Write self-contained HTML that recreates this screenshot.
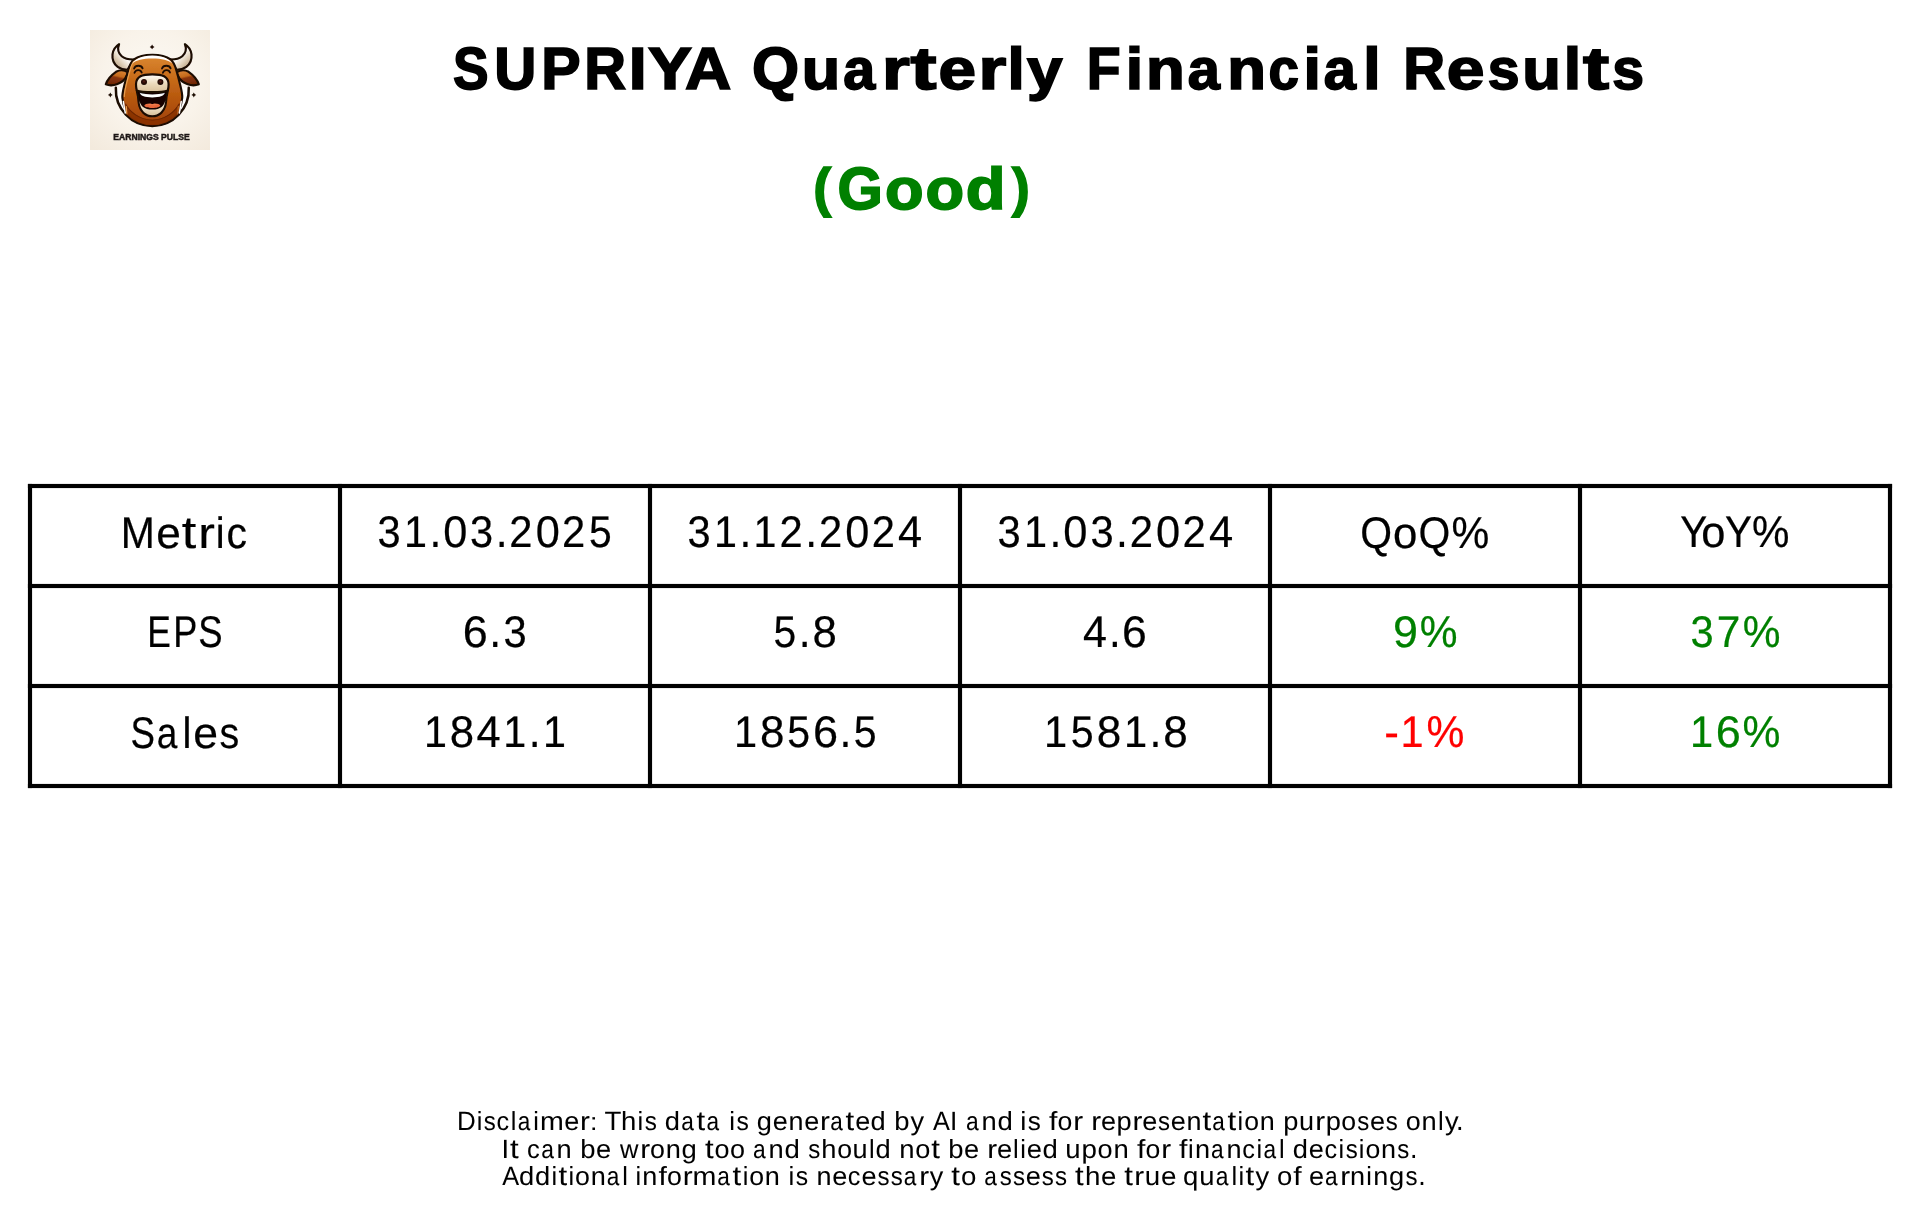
<!DOCTYPE html>
<html lang="en">
<head>
<meta charset="utf-8">
<title>SUPRIYA Quarterly Financial Results</title>
<style>
html,body{margin:0;padding:0;background:#ffffff;font-family:"Liberation Sans",sans-serif;}
body{width:1919px;height:1220px;position:relative;overflow:hidden;font-family:"Liberation Sans",sans-serif;}
#page{will-change:transform;position:absolute;left:0;top:0;width:1919px;height:1220px;display:block;font-family:"Liberation Sans",sans-serif;}
#page text{font-family:"Liberation Sans",sans-serif;white-space:pre;font-variant-ligatures:none;font-kerning:none;text-rendering:geometricPrecision;}
.b{font-weight:700;}
.grid rect{fill:#000000;}
</style>
</head>
<body>
<svg viewBox="0 0 120 120" width="120" height="120" style="position:absolute;left:90px;top:30px;display:block">
<defs>
<radialGradient id="lg-bg" cx="52%" cy="42%" r="75%"><stop offset="0" stop-color="#fcf9f4"/><stop offset=".55" stop-color="#f9f3ea"/><stop offset="1" stop-color="#f3eadd"/></radialGradient>
<linearGradient id="lg-head" x1="0" y1="0" x2="0" y2="1"><stop offset="0" stop-color="#dc8832"/><stop offset=".35" stop-color="#c66a18"/><stop offset=".7" stop-color="#b2520c"/><stop offset="1" stop-color="#a04308"/></linearGradient>
<linearGradient id="lg-hornL" x1="0.9" y1="0.1" x2="0.2" y2="0.9"><stop offset="0" stop-color="#ffffff"/><stop offset=".5" stop-color="#fbf8f2"/><stop offset=".72" stop-color="#e3d5c0"/><stop offset="1" stop-color="#bfa787"/></linearGradient>
<linearGradient id="lg-hornR" x1="0.1" y1="0.1" x2="0.8" y2="0.9"><stop offset="0" stop-color="#ffffff"/><stop offset=".5" stop-color="#fbf8f2"/><stop offset=".72" stop-color="#e3d5c0"/><stop offset="1" stop-color="#bfa787"/></linearGradient>
<linearGradient id="lg-muz" x1="0" y1="0" x2="0" y2="1"><stop offset="0" stop-color="#ffffff"/><stop offset=".25" stop-color="#f7eddc"/><stop offset=".55" stop-color="#ead8b9"/><stop offset="1" stop-color="#d9c19b"/></linearGradient>
<linearGradient id="lg-jaw" x1="0" y1="0" x2="0" y2="1"><stop offset="0" stop-color="#f7efdf"/><stop offset=".6" stop-color="#ecdcc0"/><stop offset="1" stop-color="#d9c29d"/></linearGradient>
<linearGradient id="lg-teeth" x1="0" y1="0" x2="0" y2="1"><stop offset="0" stop-color="#cfd5df"/><stop offset=".45" stop-color="#ffffff"/><stop offset="1" stop-color="#ffffff"/></linearGradient>
<radialGradient id="lg-nos" cx="50%" cy="40%" r="60%"><stop offset="0" stop-color="#5a2014"/><stop offset=".45" stop-color="#2c0c07"/><stop offset="1" stop-color="#180604"/></radialGradient>
<linearGradient id="lg-earL" x1="0.7" y1="0" x2="0.35" y2="1"><stop offset="0" stop-color="#d98434"/><stop offset=".38" stop-color="#c56a1c"/><stop offset=".5" stop-color="#8a350a"/><stop offset="1" stop-color="#6d2605"/></linearGradient>
<linearGradient id="lg-earR" x1="0.3" y1="0" x2="0.65" y2="1"><stop offset="0" stop-color="#d98434"/><stop offset=".38" stop-color="#c56a1c"/><stop offset=".5" stop-color="#8a350a"/><stop offset="1" stop-color="#6d2605"/></linearGradient>
<clipPath id="lg-headclip"><path d="M62.3 24.8C54 24.8 47.5 26.8 44 29.4C41.5 31.5 39.8 35 38.5 39.5C37.3 43.5 35.6 50 34.4 55C33 60.5 32 64.5 32.4 68C32.9 72.5 34 76 35 78.5L36.34 84.2A35.9 35.9 0 0 0 88.26 84.2L89.6 78.5C90.6 76 91.7 72.5 92.2 68C92.6 64.5 91.6 60.5 90.2 55C89 50 87.3 43.5 86.1 39.5C84.8 35 83.1 31.5 80.6 29.3C77.1 26.8 70.6 24.8 62.3 24.8Z"/></clipPath>
<filter id="lg-blur" x="-5%" y="-5%" width="110%" height="110%"><feGaussianBlur stdDeviation="0.4"/></filter>
</defs>
<rect width="120" height="120" fill="url(#lg-bg)"/>
<g filter="url(#lg-blur)" stroke-linejoin="round" stroke-linecap="round">
<!-- ring -->
<path d="M25.84 57.4A36.5 36.5 0 1 0 98.76 57.4Z" fill="#fffefb" stroke="none"/>
<path d="M25.84 57.8A36.5 36.5 0 1 0 98.76 57.8" fill="none" stroke="#1b0a06" stroke-width="2.5"/>
<!-- horns -->
<path d="M44 29.5C39 29.6 34.5 28.6 31.7 26.2C28.7 23.6 27.2 19.2 29.1 14.2C25.5 16.5 23 20.5 22.5 24.5C22 29.5 24 34 27.7 36.9C30.5 39 33.5 39.8 37.4 39.8Z" fill="url(#lg-hornL)" stroke="#1b0a06" stroke-width="2.15"/>
<path d="M80 29.5C85 29.6 89.5 28.6 92.3 26.2C95.3 23.6 96.8 19.2 94.9 14.2C98.5 16.5 101 20.5 101.5 24.5C102 29.5 100 34 96.3 36.9C93.5 39 90.5 39.8 86.6 39.8Z" fill="url(#lg-hornR)" stroke="#1b0a06" stroke-width="2.15"/>
<!-- ears -->
<path d="M15.8 54.3C17 50.5 20 46 26 41.8C30 39.6 34.5 40 38 42.5L36.5 46C35 49.5 31.5 52.5 27.5 54C23.5 55.6 19.5 55.8 15.8 54.3Z" fill="url(#lg-earL)" stroke="#1b0a06" stroke-width="2.15"/>
<path d="M108.8 54.3C107.6 50.5 104.6 46 98.6 41.8C94.6 39.6 90.1 40 86.6 42.5L88.1 46C89.6 49.5 93.1 52.5 97.1 54C101.1 55.6 105.1 55.8 108.8 54.3Z" fill="url(#lg-earR)" stroke="#1b0a06" stroke-width="2.15"/>
<!-- head + body -->
<path d="M62.3 24.8C54 24.8 47.5 26.8 44 29.4C41.5 31.5 39.8 35 38.5 39.5C37.3 43.5 35.6 50 34.4 55C33 60.5 32 64.5 32.4 68C32.9 72.5 34 76 35 78.5L36.34 84.2A35.9 35.9 0 0 0 88.26 84.2L89.6 78.5C90.6 76 91.7 72.5 92.2 68C92.6 64.5 91.6 60.5 90.2 55C89 50 87.3 43.5 86.1 39.5C84.8 35 83.1 31.5 80.6 29.3C77.1 26.8 70.6 24.8 62.3 24.8Z" fill="url(#lg-head)" stroke="#1b0a06" stroke-width="2.15"/>
<g clip-path="url(#lg-headclip)">
<!-- body darker below chin -->
<path d="M33 70C38 80 48 89.5 62.3 90C76.6 89.5 86.6 80 91.6 70L100 100L24 100Z" fill="#8a3203" opacity=".92"/>
<path d="M35.6 74C40 82 49 89.6 62.3 90C75.6 89.6 84.6 82 89 74" fill="none" stroke="#5a1c02" stroke-width="1.1" opacity=".7"/>
<!-- neck highlights -->
<path d="M36.3 76.5L36.8 84" stroke="#e9a050" stroke-width="1.2" fill="none"/>
<path d="M88.3 76.5L87.8 84" stroke="#c8701f" stroke-width="1" fill="none"/>
<!-- left rim light -->
<path d="M43.6 31.5C41.5 34.5 40.4 38.5 39.6 41.5C38.4 46 36.8 52 35.8 56.5C35 60 34.3 63.5 34.3 66.5" stroke="#eaa556" stroke-width="1.2" fill="none" opacity=".9"/>
<!-- top white shine -->
<path d="M42.5 33.5C44.5 29.5 51 25.6 62.3 25.6C73.6 25.6 80.1 29.5 82.1 33.5C78.5 30.3 72 28.6 62.3 28.6C52.6 28.6 46.1 30.3 42.5 33.5Z" fill="#ffffff" stroke="none"/>
</g>
<!-- white gaps beside neck -->
<path d="M33.4 71.5C33.9 75.5 34.6 79.5 35.3 83" stroke="#fffefb" stroke-width="1.5" fill="none"/>
<path d="M91.2 71.5C90.7 75.5 90 79.5 89.3 83" stroke="#fffefb" stroke-width="1.5" fill="none"/>
<!-- eyes -->
<g fill="none" stroke="#1b0a06" stroke-width="1.85">
<path d="M44.1 38.5C45.3 34.9 51.4 34.9 52.6 38.4"/><path d="M44.5 42.8C45.6 39.2 50.7 39.2 51.7 42.5"/><path d="M72 38.5C73.2 34.9 79.4 34.9 80.6 38.4"/><path d="M72.9 42.8C74 39.2 79 39.2 80 42.5"/>
</g>
<!-- mouth + jaw -->
<path d="M46.8 60.5C47 62.5 47.5 64.5 48 66.5C48.3 70 48.6 73.5 49.4 76.2C50.2 79 51.5 81 53.2 82.6C55.5 84.8 58.5 86.2 62.3 86.2C66.1 86.2 69.1 84.8 71.4 82.6C73.1 81 74.4 79 75.2 76.2C76 73.5 76.3 70 76.6 66.5C77.1 64.5 77.6 62.5 77.8 60.5C72 62.6 52.6 62.6 46.8 60.5Z" fill="#130403" stroke="#1b0a06" stroke-width="2.15"/>
<path d="M49.3 70.6C49.7 73.5 50.2 75.8 51 77.6C52 79.9 53.2 81.3 54.6 82.4C56.6 84 59 85.2 62.3 85.2C65.6 85.2 68 84 70 82.4C71.4 81.3 72.6 79.9 73.6 77.6C74.4 75.8 74.9 73.5 75.3 70.6C74.6 73.5 73.4 75.6 71.6 77C69.4 78.7 66.5 79.6 62.3 79.6C58.1 79.6 55.2 78.7 53 77C51.2 75.6 50 73.5 49.3 70.6Z" fill="url(#lg-jaw)" stroke="none"/>
<path d="M54.3 75.6C54.6 74.2 57 73.4 59.6 73.4C60.8 73.4 61.6 73.9 62.3 73.9C63 73.9 63.8 73.4 65 73.4C67.6 73.4 70 74.2 70.3 75.6C70 77.2 66.6 78.1 62.3 78.1C58 78.1 54.6 77.2 54.3 75.6Z" fill="#e8663a" stroke="none"/>
<path d="M56 74.8C58 74.1 60 74 62.3 74.5C64.6 74 66.6 74.1 68.6 74.8C66.6 75.4 58 75.4 56 74.8Z" fill="#f58c5c" opacity=".8"/>
<path d="M49.6 62.7C53.5 64 58 64.4 62.3 64.4C66.6 64.4 71.1 64 75 62.7C74.3 64.2 73.3 65.3 71.6 66C69 67 65.8 67.4 62.3 67.4C58.8 67.4 55.6 67 53 66C51.3 65.3 50.3 64.2 49.6 62.7Z" fill="url(#lg-teeth)" stroke="none"/>
<!-- muzzle -->
<path d="M62.3 44.3C56.5 44.3 52.8 44.9 50.5 46.2C47.6 47.9 46 50.8 46 54.2C46 56.6 46.3 58.8 46.8 60.5C52.6 62.6 72 62.6 77.8 60.5C78.3 58.8 78.6 56.6 78.6 54.2C78.6 50.8 77 47.9 74.1 46.2C71.8 44.9 68.1 44.3 62.3 44.3Z" fill="url(#lg-muz)" stroke="#1b0a06" stroke-width="2.15"/>
<circle cx="54" cy="52" r="3" fill="url(#lg-nos)"/><circle cx="70.4" cy="52" r="3" fill="url(#lg-nos)"/>
<!-- sparkles -->
<g fill="#1b0a06"><path d="M62.1 14.499999999999998Q62.65 16.349999999999998 64.5 16.9Q62.65 17.45 62.1 19.299999999999997Q61.550000000000004 17.45 59.7 16.9Q61.550000000000004 16.349999999999998 62.1 14.499999999999998Z"/><path d="M20.3 62.6Q20.85 64.45 22.7 65Q20.85 65.55 20.3 67.4Q19.75 65.55 17.900000000000002 65Q19.75 64.45 20.3 62.6Z"/><path d="M103.8 62.6Q104.35 64.45 106.2 65Q104.35 65.55 103.8 67.4Q103.25 65.55 101.39999999999999 65Q103.25 64.45 103.8 62.6Z"/></g>
</g>
<text x="61.5" y="109.75" text-anchor="middle" textLength="76.5" lengthAdjust="spacingAndGlyphs" font-family="Liberation Sans, sans-serif" font-weight="700" font-size="9.4" fill="#1f1a18" stroke="#1f1a18" stroke-width=".5" style="font-family:'Liberation Sans',sans-serif" filter="url(#lg-blur)">EARNINGS PULSE</text>
</svg>
<svg id="page" width="1919" height="1220" viewBox="0 0 1919 1220">
<g class="grid">
<rect x="27.92" y="483.92" width="1864.16" height="4.16"/>
<rect x="27.92" y="583.92" width="1864.16" height="4.16"/>
<rect x="27.92" y="683.92" width="1864.16" height="4.16"/>
<rect x="27.92" y="783.92" width="1864.16" height="4.16"/>
<rect x="27.92" y="483.92" width="4.16" height="304.16"/>
<rect x="337.92" y="483.92" width="4.16" height="304.16"/>
<rect x="647.92" y="483.92" width="4.16" height="304.16"/>
<rect x="957.92" y="483.92" width="4.16" height="304.16"/>
<rect x="1267.92" y="483.92" width="4.16" height="304.16"/>
<rect x="1577.92" y="483.92" width="4.16" height="304.16"/>
<rect x="1887.92" y="483.92" width="4.16" height="304.16"/>
</g>
<g id="title" fill="#000000" stroke="#000000" stroke-width="1.7" stroke-linejoin="miter" stroke-miterlimit="3" class="b">
<text y="89.15"><tspan x="453.11" font-size="59.57" textLength="35.56" lengthAdjust="spacingAndGlyphs">S</tspan><tspan x="494.31" font-size="59.34" textLength="42.12" lengthAdjust="spacingAndGlyphs">U</tspan><tspan x="541.37" font-size="59.34" textLength="39.37" lengthAdjust="spacingAndGlyphs">P</tspan><tspan x="584.19" font-size="59.34" textLength="41.87" lengthAdjust="spacingAndGlyphs">R</tspan><tspan x="628.88" font-size="59.34" textLength="17.93" lengthAdjust="spacingAndGlyphs">I</tspan><tspan x="647.94" font-size="59.34" textLength="43.99" lengthAdjust="spacingAndGlyphs">Y</tspan><tspan x="685.05" font-size="59.34" textLength="46.29" lengthAdjust="spacingAndGlyphs">A</tspan></text> <text y="89.15"><tspan x="752.12" font-size="59.57" textLength="47.1" lengthAdjust="spacingAndGlyphs">Q</tspan><tspan x="801.76" font-size="57.16" textLength="38.44" lengthAdjust="spacingAndGlyphs">u</tspan><tspan x="843.32" font-size="57.55" textLength="31.91" lengthAdjust="spacingAndGlyphs">a</tspan><tspan x="882.09" font-size="57.5" textLength="27.8" lengthAdjust="spacingAndGlyphs">r</tspan><tspan x="910.48" font-size="60.18" textLength="26" lengthAdjust="spacingAndGlyphs">t</tspan><tspan x="938.43" font-size="57.55" textLength="37.49" lengthAdjust="spacingAndGlyphs">e</tspan><tspan x="978.4" font-size="57.5" textLength="27.8" lengthAdjust="spacingAndGlyphs">r</tspan><tspan x="1007.55" font-size="58.81" textLength="17.22" lengthAdjust="spacingAndGlyphs">l</tspan><tspan x="1027.07" font-size="57.16" textLength="35.42" lengthAdjust="spacingAndGlyphs">y</tspan></text> <text y="89.15"><tspan x="1086.64" font-size="59.34" textLength="33.85" lengthAdjust="spacingAndGlyphs">F</tspan><tspan x="1125.7" font-size="58.81" textLength="17.36" lengthAdjust="spacingAndGlyphs">i</tspan><tspan x="1145.91" font-size="57.5" textLength="38.72" lengthAdjust="spacingAndGlyphs">n</tspan><tspan x="1187.67" font-size="57.55" textLength="32.14" lengthAdjust="spacingAndGlyphs">a</tspan><tspan x="1227.26" font-size="57.5" textLength="38.72" lengthAdjust="spacingAndGlyphs">n</tspan><tspan x="1268.58" font-size="57.55" textLength="30.42" lengthAdjust="spacingAndGlyphs">c</tspan><tspan x="1303.52" font-size="58.81" textLength="17.36" lengthAdjust="spacingAndGlyphs">i</tspan><tspan x="1323.8" font-size="57.55" textLength="32.14" lengthAdjust="spacingAndGlyphs">a</tspan><tspan x="1363.21" font-size="58.81" textLength="17.36" lengthAdjust="spacingAndGlyphs">l</tspan></text> <text y="89.15"><tspan x="1403.21" font-size="59.34" textLength="42" lengthAdjust="spacingAndGlyphs">R</tspan><tspan x="1446.85" font-size="57.55" textLength="37.7" lengthAdjust="spacingAndGlyphs">e</tspan><tspan x="1487.86" font-size="57.5" textLength="31.76" lengthAdjust="spacingAndGlyphs">s</tspan><tspan x="1522.32" font-size="57.16" textLength="38.65" lengthAdjust="spacingAndGlyphs">u</tspan><tspan x="1563.85" font-size="58.81" textLength="17.33" lengthAdjust="spacingAndGlyphs">l</tspan><tspan x="1583.08" font-size="60.18" textLength="26.14" lengthAdjust="spacingAndGlyphs">t</tspan><tspan x="1612.34" font-size="57.5" textLength="31.76" lengthAdjust="spacingAndGlyphs">s</tspan></text>
</g>
<g id="good" fill="#008000" stroke="#008000" stroke-width="1.7" stroke-linejoin="miter" stroke-miterlimit="3" class="b">
<text transform="translate(813.15 205.65) scale(0.8894 0.8844)" font-size="60.95">(</text><text y="209.15"><tspan x="837.46" font-size="59.57" textLength="45.3" lengthAdjust="spacingAndGlyphs">G</tspan><tspan x="885.12" font-size="57.55" textLength="38.58" lengthAdjust="spacingAndGlyphs">o</tspan><tspan x="925.44" font-size="57.55" textLength="38.58" lengthAdjust="spacingAndGlyphs">o</tspan><tspan x="965.67" font-size="58.81" textLength="39.77" lengthAdjust="spacingAndGlyphs">d</tspan></text><text transform="translate(1011.80 205.65) scale(0.8894 0.8844)" font-size="60.95">)</text>
</g>
<g id="c00" fill="#000000" stroke="#000000" stroke-width="0.22" stroke-linejoin="miter" stroke-miterlimit="3">
<text y="547.89"><tspan x="120.75" font-size="44.27" textLength="34.09" lengthAdjust="spacingAndGlyphs">M</tspan><tspan x="156.2" font-size="43.52" textLength="24.6" lengthAdjust="spacingAndGlyphs">e</tspan><tspan x="181.85" font-size="45.38" textLength="14.5" lengthAdjust="spacingAndGlyphs">t</tspan><tspan x="198.2" font-size="43.52" textLength="16.67" lengthAdjust="spacingAndGlyphs">r</tspan><tspan x="215.74" font-size="43.8" textLength="8.84" lengthAdjust="spacingAndGlyphs">i</tspan><tspan x="226.47" font-size="43.52" textLength="20.5" lengthAdjust="spacingAndGlyphs">c</tspan></text>
</g>
<g id="c01" fill="#000000" stroke="#000000" stroke-width="0.22" stroke-linejoin="miter" stroke-miterlimit="3">
<text y="546.89"><tspan x="377.53" font-size="44.41" textLength="23.13" lengthAdjust="spacingAndGlyphs">3</tspan><tspan x="403.91" font-size="44.27" textLength="22.98" lengthAdjust="spacingAndGlyphs">1</tspan><tspan x="429.46" font-size="49.08" textLength="11.85" lengthAdjust="spacingAndGlyphs">.</tspan><tspan x="443.17" font-size="44.41" textLength="24.1" lengthAdjust="spacingAndGlyphs">0</tspan><tspan x="470.12" font-size="44.41" textLength="23.13" lengthAdjust="spacingAndGlyphs">3</tspan><tspan x="495.64" font-size="49.08" textLength="11.85" lengthAdjust="spacingAndGlyphs">.</tspan><tspan x="509.24" font-size="44.41" textLength="23.21" lengthAdjust="spacingAndGlyphs">2</tspan><tspan x="535.64" font-size="44.41" textLength="24.1" lengthAdjust="spacingAndGlyphs">0</tspan><tspan x="561.96" font-size="44.41" textLength="23.21" lengthAdjust="spacingAndGlyphs">2</tspan><tspan x="588.88" font-size="44.27" textLength="22.73" lengthAdjust="spacingAndGlyphs">5</tspan></text>
</g>
<g id="c02" fill="#000000" stroke="#000000" stroke-width="0.22" stroke-linejoin="miter" stroke-miterlimit="3">
<text y="546.89"><tspan x="687.53" font-size="44.41" textLength="23.13" lengthAdjust="spacingAndGlyphs">3</tspan><tspan x="713.9" font-size="44.27" textLength="22.97" lengthAdjust="spacingAndGlyphs">1</tspan><tspan x="739.45" font-size="49.08" textLength="11.84" lengthAdjust="spacingAndGlyphs">.</tspan><tspan x="753.52" font-size="44.27" textLength="22.97" lengthAdjust="spacingAndGlyphs">1</tspan><tspan x="779.47" font-size="44.41" textLength="23.2" lengthAdjust="spacingAndGlyphs">2</tspan><tspan x="805.36" font-size="49.08" textLength="11.84" lengthAdjust="spacingAndGlyphs">.</tspan><tspan x="818.96" font-size="44.41" textLength="23.2" lengthAdjust="spacingAndGlyphs">2</tspan><tspan x="845.36" font-size="44.41" textLength="24.1" lengthAdjust="spacingAndGlyphs">0</tspan><tspan x="871.67" font-size="44.41" textLength="23.2" lengthAdjust="spacingAndGlyphs">2</tspan><tspan x="898.05" font-size="44.27" textLength="24.11" lengthAdjust="spacingAndGlyphs">4</tspan></text>
</g>
<g id="c03" fill="#000000" stroke="#000000" stroke-width="0.22" stroke-linejoin="miter" stroke-miterlimit="3">
<text y="546.89"><tspan x="997.52" font-size="44.41" textLength="23.2" lengthAdjust="spacingAndGlyphs">3</tspan><tspan x="1023.98" font-size="44.27" textLength="23.05" lengthAdjust="spacingAndGlyphs">1</tspan><tspan x="1049.61" font-size="49.08" textLength="11.89" lengthAdjust="spacingAndGlyphs">.</tspan><tspan x="1063.36" font-size="44.41" textLength="24.17" lengthAdjust="spacingAndGlyphs">0</tspan><tspan x="1090.4" font-size="44.41" textLength="23.2" lengthAdjust="spacingAndGlyphs">3</tspan><tspan x="1115.99" font-size="49.08" textLength="11.89" lengthAdjust="spacingAndGlyphs">.</tspan><tspan x="1129.63" font-size="44.41" textLength="23.28" lengthAdjust="spacingAndGlyphs">2</tspan><tspan x="1156.11" font-size="44.41" textLength="24.17" lengthAdjust="spacingAndGlyphs">0</tspan><tspan x="1182.51" font-size="44.41" textLength="23.28" lengthAdjust="spacingAndGlyphs">2</tspan><tspan x="1208.97" font-size="44.27" textLength="24.19" lengthAdjust="spacingAndGlyphs">4</tspan></text>
</g>
<g id="c04" fill="#000000" stroke="#000000" stroke-width="0.22" stroke-linejoin="miter" stroke-miterlimit="3">
<text y="547.89"><tspan x="1360.18" font-size="44.41" textLength="31.77" lengthAdjust="spacingAndGlyphs">Q</tspan><tspan x="1393.08" font-size="43.52" textLength="24.36" lengthAdjust="spacingAndGlyphs">o</tspan><tspan x="1418.39" font-size="44.41" textLength="31.77" lengthAdjust="spacingAndGlyphs">Q</tspan><tspan x="1451.62" font-size="44.69" textLength="37.78" lengthAdjust="spacingAndGlyphs">%</tspan></text>
</g>
<g id="c05" fill="#000000" stroke="#000000" stroke-width="0.22" stroke-linejoin="miter" stroke-miterlimit="3">
<text y="546.89"><tspan x="1680.22" font-size="44.27" textLength="26.93" lengthAdjust="spacingAndGlyphs">Y</tspan><tspan x="1701.34" font-size="43.52" textLength="24.15" lengthAdjust="spacingAndGlyphs">o</tspan><tspan x="1725.05" font-size="44.27" textLength="26.93" lengthAdjust="spacingAndGlyphs">Y</tspan><tspan x="1751.94" font-size="44.69" textLength="37.45" lengthAdjust="spacingAndGlyphs">%</tspan></text>
</g>
<g id="c10" fill="#000000" stroke="#000000" stroke-width="0.22" stroke-linejoin="miter" stroke-miterlimit="3">
<text y="646.89"><tspan x="147.2" font-size="44.27" textLength="23.63" lengthAdjust="spacingAndGlyphs">E</tspan><tspan x="173.32" font-size="44.27" textLength="24.12" lengthAdjust="spacingAndGlyphs">P</tspan><tspan x="198.23" font-size="44.41" textLength="24.33" lengthAdjust="spacingAndGlyphs">S</tspan></text>
</g>
<g id="c11" fill="#000000" stroke="#000000" stroke-width="0.22" stroke-linejoin="miter" stroke-miterlimit="3">
<text y="646.89"><tspan x="462.83" font-size="44.41" textLength="25.01" lengthAdjust="spacingAndGlyphs">6</tspan><tspan x="489.24" font-size="49.08" textLength="11.88" lengthAdjust="spacingAndGlyphs">.</tspan><tspan x="503.53" font-size="44.41" textLength="23.2" lengthAdjust="spacingAndGlyphs">3</tspan></text>
</g>
<g id="c12" fill="#000000" stroke="#000000" stroke-width="0.22" stroke-linejoin="miter" stroke-miterlimit="3">
<text y="646.89"><tspan x="773.47" font-size="44.27" textLength="22.72" lengthAdjust="spacingAndGlyphs">5</tspan><tspan x="798.87" font-size="49.08" textLength="11.84" lengthAdjust="spacingAndGlyphs">.</tspan><tspan x="812.44" font-size="44.41" textLength="24.35" lengthAdjust="spacingAndGlyphs">8</tspan></text>
</g>
<g id="c13" fill="#000000" stroke="#000000" stroke-width="0.22" stroke-linejoin="miter" stroke-miterlimit="3">
<text y="646.89"><tspan x="1083.12" font-size="44.27" textLength="23.95" lengthAdjust="spacingAndGlyphs">4</tspan><tspan x="1108.88" font-size="49.08" textLength="11.76" lengthAdjust="spacingAndGlyphs">.</tspan><tspan x="1122.08" font-size="44.41" textLength="24.77" lengthAdjust="spacingAndGlyphs">6</tspan></text>
</g>
<g id="c14" fill="#008000" stroke="#008000" stroke-width="0.22" stroke-linejoin="miter" stroke-miterlimit="3">
<text y="646.89"><tspan x="1393.01" font-size="44.41" textLength="24.95" lengthAdjust="spacingAndGlyphs">9</tspan><tspan x="1419.63" font-size="44.69" textLength="37.78" lengthAdjust="spacingAndGlyphs">%</tspan></text>
</g>
<g id="c15" fill="#008000" stroke="#008000" stroke-width="0.22" stroke-linejoin="miter" stroke-miterlimit="3">
<text y="646.89"><tspan x="1690.52" font-size="44.41" textLength="23.17" lengthAdjust="spacingAndGlyphs">3</tspan><tspan x="1716.77" font-size="44.27" textLength="23.59" lengthAdjust="spacingAndGlyphs">7</tspan><tspan x="1742.65" font-size="44.69" textLength="37.75" lengthAdjust="spacingAndGlyphs">%</tspan></text>
</g>
<g id="c20" fill="#000000" stroke="#000000" stroke-width="0.22" stroke-linejoin="miter" stroke-miterlimit="3">
<text y="747.89"><tspan x="130.44" font-size="44.41" textLength="24.51" lengthAdjust="spacingAndGlyphs">S</tspan><tspan x="156.78" font-size="43.52" textLength="20.59" lengthAdjust="spacingAndGlyphs">a</tspan><tspan x="182.56" font-size="43.8" textLength="8.9" lengthAdjust="spacingAndGlyphs">l</tspan><tspan x="193.24" font-size="43.52" textLength="24.76" lengthAdjust="spacingAndGlyphs">e</tspan><tspan x="219.6" font-size="43.64" textLength="19.71" lengthAdjust="spacingAndGlyphs">s</tspan></text>
</g>
<g id="c21" fill="#000000" stroke="#000000" stroke-width="0.22" stroke-linejoin="miter" stroke-miterlimit="3">
<text y="746.89"><tspan x="423.96" font-size="44.27" textLength="22.97" lengthAdjust="spacingAndGlyphs">1</tspan><tspan x="449.87" font-size="44.41" textLength="24.35" lengthAdjust="spacingAndGlyphs">8</tspan><tspan x="476.53" font-size="44.27" textLength="24.11" lengthAdjust="spacingAndGlyphs">4</tspan><tspan x="503.32" font-size="44.27" textLength="22.97" lengthAdjust="spacingAndGlyphs">1</tspan><tspan x="528.86" font-size="49.08" textLength="11.84" lengthAdjust="spacingAndGlyphs">.</tspan><tspan x="542.94" font-size="44.27" textLength="22.97" lengthAdjust="spacingAndGlyphs">1</tspan></text>
</g>
<g id="c22" fill="#000000" stroke="#000000" stroke-width="0.22" stroke-linejoin="miter" stroke-miterlimit="3">
<text y="746.89"><tspan x="733.95" font-size="44.27" textLength="23.11" lengthAdjust="spacingAndGlyphs">1</tspan><tspan x="760.01" font-size="44.41" textLength="24.49" lengthAdjust="spacingAndGlyphs">8</tspan><tspan x="787.35" font-size="44.27" textLength="22.85" lengthAdjust="spacingAndGlyphs">5</tspan><tspan x="812.97" font-size="44.41" textLength="25.08" lengthAdjust="spacingAndGlyphs">6</tspan><tspan x="839.45" font-size="49.08" textLength="11.92" lengthAdjust="spacingAndGlyphs">.</tspan><tspan x="853.76" font-size="44.27" textLength="22.85" lengthAdjust="spacingAndGlyphs">5</tspan></text>
</g>
<g id="c23" fill="#000000" stroke="#000000" stroke-width="0.22" stroke-linejoin="miter" stroke-miterlimit="3">
<text y="746.89"><tspan x="1043.94" font-size="44.27" textLength="23.14" lengthAdjust="spacingAndGlyphs">1</tspan><tspan x="1070.7" font-size="44.27" textLength="22.89" lengthAdjust="spacingAndGlyphs">5</tspan><tspan x="1096.64" font-size="44.41" textLength="24.53" lengthAdjust="spacingAndGlyphs">8</tspan><tspan x="1123.88" font-size="44.27" textLength="23.14" lengthAdjust="spacingAndGlyphs">1</tspan><tspan x="1149.6" font-size="49.08" textLength="11.93" lengthAdjust="spacingAndGlyphs">.</tspan><tspan x="1163.28" font-size="44.41" textLength="24.53" lengthAdjust="spacingAndGlyphs">8</tspan></text>
</g>
<g id="c24" fill="#ff0000" stroke="#ff0000" stroke-width="0.22" stroke-linejoin="miter" stroke-miterlimit="3">
<text y="746.89"><tspan x="1384.15" font-size="43.67" textLength="14.71" lengthAdjust="spacingAndGlyphs">-</tspan><tspan x="1400.54" font-size="44.27" textLength="23.12" lengthAdjust="spacingAndGlyphs">1</tspan><tspan x="1426.48" font-size="44.69" textLength="37.93" lengthAdjust="spacingAndGlyphs">%</tspan></text>
</g>
<g id="c25" fill="#008000" stroke="#008000" stroke-width="0.22" stroke-linejoin="miter" stroke-miterlimit="3">
<text y="746.89"><tspan x="1689.94" font-size="44.27" textLength="23.13" lengthAdjust="spacingAndGlyphs">1</tspan><tspan x="1715.73" font-size="44.41" textLength="25.1" lengthAdjust="spacingAndGlyphs">6</tspan><tspan x="1742.48" font-size="44.69" textLength="37.93" lengthAdjust="spacingAndGlyphs">%</tspan></text>
</g>
<g id="d0" fill="#000000" stroke="#000000" stroke-width="0.04" stroke-linejoin="miter" stroke-miterlimit="3">
<text y="1129.98"><tspan x="456.89" font-size="26.43" textLength="18.74" lengthAdjust="spacingAndGlyphs">D</tspan><tspan x="476.73" font-size="26.16" textLength="5.61" lengthAdjust="spacingAndGlyphs">i</tspan><tspan x="483.78" font-size="26.02" textLength="12.01" lengthAdjust="spacingAndGlyphs">s</tspan><tspan x="496.61" font-size="25.95" textLength="12.57" lengthAdjust="spacingAndGlyphs">c</tspan><tspan x="510.79" font-size="26.16" textLength="5.61" lengthAdjust="spacingAndGlyphs">l</tspan><tspan x="517.72" font-size="25.95" textLength="12.54" lengthAdjust="spacingAndGlyphs">a</tspan><tspan x="533.19" font-size="26.16" textLength="5.61" lengthAdjust="spacingAndGlyphs">i</tspan><tspan x="539.94" font-size="25.95" textLength="23.82" lengthAdjust="spacingAndGlyphs">m</tspan><tspan x="564.31" font-size="25.95" textLength="15.06" lengthAdjust="spacingAndGlyphs">e</tspan><tspan x="580.13" font-size="25.95" textLength="9.94" lengthAdjust="spacingAndGlyphs">r</tspan><tspan x="589.98" font-size="24.39" textLength="7.44" lengthAdjust="spacingAndGlyphs">:</tspan></text> <text y="1129.98"><tspan x="604.4" font-size="26.43" textLength="16.9" lengthAdjust="spacingAndGlyphs">T</tspan><tspan x="621.14" font-size="26.16" textLength="15.3" lengthAdjust="spacingAndGlyphs">h</tspan><tspan x="637.58" font-size="26.16" textLength="5.68" lengthAdjust="spacingAndGlyphs">i</tspan><tspan x="644.71" font-size="26.02" textLength="12.14" lengthAdjust="spacingAndGlyphs">s</tspan></text> <text y="1129.98"><tspan x="664.87" font-size="26.16" textLength="15.19" lengthAdjust="spacingAndGlyphs">d</tspan><tspan x="681.2" font-size="25.95" textLength="12.57" lengthAdjust="spacingAndGlyphs">a</tspan><tspan x="696.53" font-size="27.09" textLength="8.66" lengthAdjust="spacingAndGlyphs">t</tspan><tspan x="706.41" font-size="25.95" textLength="12.57" lengthAdjust="spacingAndGlyphs">a</tspan></text> <text y="1129.98"><tspan x="729.28" font-size="26.16" textLength="5.77" lengthAdjust="spacingAndGlyphs">i</tspan><tspan x="736.53" font-size="26.02" textLength="12.34" lengthAdjust="spacingAndGlyphs">s</tspan></text> <text y="1129.98"><tspan x="756.88" font-size="26.02" textLength="15.13" lengthAdjust="spacingAndGlyphs">g</tspan><tspan x="772.81" font-size="25.95" textLength="15.03" lengthAdjust="spacingAndGlyphs">e</tspan><tspan x="788.51" font-size="25.95" textLength="15" lengthAdjust="spacingAndGlyphs">n</tspan><tspan x="804.2" font-size="25.95" textLength="15.03" lengthAdjust="spacingAndGlyphs">e</tspan><tspan x="819.97" font-size="25.95" textLength="9.94" lengthAdjust="spacingAndGlyphs">r</tspan><tspan x="830.37" font-size="25.95" textLength="12.51" lengthAdjust="spacingAndGlyphs">a</tspan><tspan x="845.62" font-size="27.09" textLength="8.66" lengthAdjust="spacingAndGlyphs">t</tspan><tspan x="855.16" font-size="25.95" textLength="15.03" lengthAdjust="spacingAndGlyphs">e</tspan><tspan x="870.61" font-size="26.16" textLength="15.13" lengthAdjust="spacingAndGlyphs">d</tspan></text> <text y="1129.98"><tspan x="894.25" font-size="26.16" textLength="15.27" lengthAdjust="spacingAndGlyphs">b</tspan><tspan x="910.48" font-size="25.8" textLength="13.55" lengthAdjust="spacingAndGlyphs">y</tspan></text> <text y="1129.98"><tspan x="932.97" font-size="26.43" textLength="16.87" lengthAdjust="spacingAndGlyphs">A</tspan><tspan x="950.12" font-size="26.43" textLength="7.28" lengthAdjust="spacingAndGlyphs">I</tspan></text> <text y="1129.98"><tspan x="966.05" font-size="25.95" textLength="12.68" lengthAdjust="spacingAndGlyphs">a</tspan><tspan x="981.51" font-size="25.95" textLength="15.21" lengthAdjust="spacingAndGlyphs">n</tspan><tspan x="997.42" font-size="26.16" textLength="15.33" lengthAdjust="spacingAndGlyphs">d</tspan></text> <text y="1129.98"><tspan x="1020.18" font-size="26.16" textLength="6.11" lengthAdjust="spacingAndGlyphs">i</tspan><tspan x="1027.86" font-size="26.02" textLength="13.07" lengthAdjust="spacingAndGlyphs">s</tspan></text> <text y="1129.98"><tspan x="1048.95" font-size="26.19" textLength="8.37" lengthAdjust="spacingAndGlyphs">f</tspan><tspan x="1057.63" font-size="25.95" textLength="14.81" lengthAdjust="spacingAndGlyphs">o</tspan><tspan x="1073.26" font-size="25.95" textLength="9.94" lengthAdjust="spacingAndGlyphs">r</tspan></text> <text y="1129.98"><tspan x="1091.31" font-size="25.95" textLength="9.94" lengthAdjust="spacingAndGlyphs">r</tspan><tspan x="1100.9" font-size="25.95" textLength="15.04" lengthAdjust="spacingAndGlyphs">e</tspan><tspan x="1116.63" font-size="25.97" textLength="15.14" lengthAdjust="spacingAndGlyphs">p</tspan><tspan x="1132.62" font-size="25.95" textLength="9.94" lengthAdjust="spacingAndGlyphs">r</tspan><tspan x="1142.2" font-size="25.95" textLength="15.04" lengthAdjust="spacingAndGlyphs">e</tspan><tspan x="1158.1" font-size="26.02" textLength="11.99" lengthAdjust="spacingAndGlyphs">s</tspan><tspan x="1170.83" font-size="25.95" textLength="15.04" lengthAdjust="spacingAndGlyphs">e</tspan><tspan x="1186.53" font-size="25.95" textLength="15.01" lengthAdjust="spacingAndGlyphs">n</tspan><tspan x="1202.47" font-size="27.09" textLength="8.66" lengthAdjust="spacingAndGlyphs">t</tspan><tspan x="1212.33" font-size="25.95" textLength="12.52" lengthAdjust="spacingAndGlyphs">a</tspan><tspan x="1227.59" font-size="27.09" textLength="8.66" lengthAdjust="spacingAndGlyphs">t</tspan><tspan x="1237.57" font-size="26.16" textLength="5.6" lengthAdjust="spacingAndGlyphs">i</tspan><tspan x="1244.19" font-size="25.95" textLength="14.8" lengthAdjust="spacingAndGlyphs">o</tspan><tspan x="1259.73" font-size="25.95" textLength="15.01" lengthAdjust="spacingAndGlyphs">n</tspan></text> <text y="1129.98"><tspan x="1283.26" font-size="25.97" textLength="15.17" lengthAdjust="spacingAndGlyphs">p</tspan><tspan x="1299.09" font-size="26.43" textLength="15.03" lengthAdjust="spacingAndGlyphs">u</tspan><tspan x="1315.27" font-size="25.95" textLength="9.94" lengthAdjust="spacingAndGlyphs">r</tspan><tspan x="1325.66" font-size="25.97" textLength="15.17" lengthAdjust="spacingAndGlyphs">p</tspan><tspan x="1341.38" font-size="25.95" textLength="14.83" lengthAdjust="spacingAndGlyphs">o</tspan><tspan x="1357.15" font-size="26.02" textLength="12.01" lengthAdjust="spacingAndGlyphs">s</tspan><tspan x="1369.9" font-size="25.95" textLength="15.07" lengthAdjust="spacingAndGlyphs">e</tspan><tspan x="1385.83" font-size="26.02" textLength="12.01" lengthAdjust="spacingAndGlyphs">s</tspan></text> <text y="1129.98"><tspan x="1405.89" font-size="25.95" textLength="14.98" lengthAdjust="spacingAndGlyphs">o</tspan><tspan x="1421.62" font-size="25.95" textLength="15.19" lengthAdjust="spacingAndGlyphs">n</tspan><tspan x="1437.93" font-size="26.16" textLength="5.67" lengthAdjust="spacingAndGlyphs">l</tspan><tspan x="1445.07" font-size="25.8" textLength="13.61" lengthAdjust="spacingAndGlyphs">y</tspan><tspan x="1455.93" font-size="28.62" textLength="7.52" lengthAdjust="spacingAndGlyphs">.</tspan></text>
</g>
<g id="d1" fill="#000000" stroke="#000000" stroke-width="0.04" stroke-linejoin="miter" stroke-miterlimit="3">
<text y="1157.98"><tspan x="501.49" font-size="26.43" textLength="7.61" lengthAdjust="spacingAndGlyphs">I</tspan><tspan x="510.06" font-size="27.09" textLength="8.66" lengthAdjust="spacingAndGlyphs">t</tspan></text> <text y="1157.98"><tspan x="526.94" font-size="25.95" textLength="12.7" lengthAdjust="spacingAndGlyphs">c</tspan><tspan x="541.15" font-size="25.95" textLength="12.66" lengthAdjust="spacingAndGlyphs">a</tspan><tspan x="556.58" font-size="25.95" textLength="15.18" lengthAdjust="spacingAndGlyphs">n</tspan></text> <text y="1157.98"><tspan x="580.25" font-size="26.16" textLength="15.27" lengthAdjust="spacingAndGlyphs">b</tspan><tspan x="596.03" font-size="25.95" textLength="15.16" lengthAdjust="spacingAndGlyphs">e</tspan></text> <text y="1157.98"><tspan x="620.06" font-size="25.8" textLength="18.44" lengthAdjust="spacingAndGlyphs">w</tspan><tspan x="640.34" font-size="25.95" textLength="9.94" lengthAdjust="spacingAndGlyphs">r</tspan><tspan x="649.99" font-size="25.95" textLength="14.92" lengthAdjust="spacingAndGlyphs">o</tspan><tspan x="665.66" font-size="25.95" textLength="15.13" lengthAdjust="spacingAndGlyphs">n</tspan><tspan x="681.49" font-size="26.02" textLength="15.26" lengthAdjust="spacingAndGlyphs">g</tspan></text> <text y="1157.98"><tspan x="704.9" font-size="27.09" textLength="8.66" lengthAdjust="spacingAndGlyphs">t</tspan><tspan x="714.55" font-size="25.95" textLength="15.02" lengthAdjust="spacingAndGlyphs">o</tspan><tspan x="730.09" font-size="25.95" textLength="15.02" lengthAdjust="spacingAndGlyphs">o</tspan></text> <text y="1157.98"><tspan x="753.05" font-size="25.95" textLength="12.68" lengthAdjust="spacingAndGlyphs">a</tspan><tspan x="768.51" font-size="25.95" textLength="15.21" lengthAdjust="spacingAndGlyphs">n</tspan><tspan x="784.42" font-size="26.16" textLength="15.33" lengthAdjust="spacingAndGlyphs">d</tspan></text> <text y="1157.98"><tspan x="808.35" font-size="26.02" textLength="12.03" lengthAdjust="spacingAndGlyphs">s</tspan><tspan x="821.28" font-size="26.16" textLength="15.16" lengthAdjust="spacingAndGlyphs">h</tspan><tspan x="837.15" font-size="25.95" textLength="14.85" lengthAdjust="spacingAndGlyphs">o</tspan><tspan x="852.64" font-size="26.43" textLength="15.06" lengthAdjust="spacingAndGlyphs">u</tspan><tspan x="868.93" font-size="26.16" textLength="5.62" lengthAdjust="spacingAndGlyphs">l</tspan><tspan x="875.56" font-size="26.16" textLength="15.18" lengthAdjust="spacingAndGlyphs">d</tspan></text> <text y="1157.98"><tspan x="899.19" font-size="25.95" textLength="15.31" lengthAdjust="spacingAndGlyphs">n</tspan><tspan x="915.23" font-size="25.95" textLength="15.1" lengthAdjust="spacingAndGlyphs">o</tspan><tspan x="931.18" font-size="27.09" textLength="8.66" lengthAdjust="spacingAndGlyphs">t</tspan></text> <text y="1157.98"><tspan x="948.25" font-size="26.16" textLength="15.27" lengthAdjust="spacingAndGlyphs">b</tspan><tspan x="964.03" font-size="25.95" textLength="15.16" lengthAdjust="spacingAndGlyphs">e</tspan></text> <text y="1157.98"><tspan x="987.36" font-size="25.95" textLength="9.94" lengthAdjust="spacingAndGlyphs">r</tspan><tspan x="996.98" font-size="25.95" textLength="15.21" lengthAdjust="spacingAndGlyphs">e</tspan><tspan x="1013.04" font-size="26.16" textLength="5.67" lengthAdjust="spacingAndGlyphs">l</tspan><tspan x="1020.16" font-size="26.16" textLength="5.67" lengthAdjust="spacingAndGlyphs">i</tspan><tspan x="1026.83" font-size="25.95" textLength="15.21" lengthAdjust="spacingAndGlyphs">e</tspan><tspan x="1042.45" font-size="26.16" textLength="15.3" lengthAdjust="spacingAndGlyphs">d</tspan></text> <text y="1157.98"><tspan x="1065.23" font-size="26.43" textLength="15.3" lengthAdjust="spacingAndGlyphs">u</tspan><tspan x="1081.64" font-size="25.97" textLength="15.44" lengthAdjust="spacingAndGlyphs">p</tspan><tspan x="1097.63" font-size="25.95" textLength="15.09" lengthAdjust="spacingAndGlyphs">o</tspan><tspan x="1113.47" font-size="25.95" textLength="15.3" lengthAdjust="spacingAndGlyphs">n</tspan></text> <text y="1157.98"><tspan x="1136.95" font-size="26.19" textLength="8.37" lengthAdjust="spacingAndGlyphs">f</tspan><tspan x="1145.63" font-size="25.95" textLength="14.81" lengthAdjust="spacingAndGlyphs">o</tspan><tspan x="1161.26" font-size="25.95" textLength="9.94" lengthAdjust="spacingAndGlyphs">r</tspan></text> <text y="1157.98"><tspan x="1178.98" font-size="26.19" textLength="8.37" lengthAdjust="spacingAndGlyphs">f</tspan><tspan x="1188.09" font-size="26.16" textLength="5.64" lengthAdjust="spacingAndGlyphs">i</tspan><tspan x="1194.98" font-size="25.95" textLength="15.1" lengthAdjust="spacingAndGlyphs">n</tspan><tspan x="1211.08" font-size="25.95" textLength="12.59" lengthAdjust="spacingAndGlyphs">a</tspan><tspan x="1226.43" font-size="25.95" textLength="15.1" lengthAdjust="spacingAndGlyphs">n</tspan><tspan x="1242.31" font-size="25.95" textLength="12.63" lengthAdjust="spacingAndGlyphs">c</tspan><tspan x="1256.57" font-size="26.16" textLength="5.64" lengthAdjust="spacingAndGlyphs">i</tspan><tspan x="1263.51" font-size="25.95" textLength="12.59" lengthAdjust="spacingAndGlyphs">a</tspan><tspan x="1279.04" font-size="26.16" textLength="5.64" lengthAdjust="spacingAndGlyphs">l</tspan></text> <text y="1157.98"><tspan x="1292.88" font-size="26.16" textLength="15.16" lengthAdjust="spacingAndGlyphs">d</tspan><tspan x="1308.84" font-size="25.95" textLength="15.06" lengthAdjust="spacingAndGlyphs">e</tspan><tspan x="1324.4" font-size="25.95" textLength="12.57" lengthAdjust="spacingAndGlyphs">c</tspan><tspan x="1338.6" font-size="26.16" textLength="5.61" lengthAdjust="spacingAndGlyphs">i</tspan><tspan x="1345.65" font-size="26.02" textLength="12.01" lengthAdjust="spacingAndGlyphs">s</tspan><tspan x="1358.85" font-size="26.16" textLength="5.61" lengthAdjust="spacingAndGlyphs">i</tspan><tspan x="1365.48" font-size="25.95" textLength="14.83" lengthAdjust="spacingAndGlyphs">o</tspan><tspan x="1381.05" font-size="25.95" textLength="15.03" lengthAdjust="spacingAndGlyphs">n</tspan><tspan x="1397.23" font-size="26.02" textLength="12.01" lengthAdjust="spacingAndGlyphs">s</tspan><tspan x="1409.98" font-size="28.62" textLength="7.45" lengthAdjust="spacingAndGlyphs">.</tspan></text>
</g>
<g id="d2" fill="#000000" stroke="#000000" stroke-width="0.04" stroke-linejoin="miter" stroke-miterlimit="3">
<text y="1184.98"><tspan x="502.17" font-size="26.43" textLength="16.91" lengthAdjust="spacingAndGlyphs">A</tspan><tspan x="519.04" font-size="26.16" textLength="15.2" lengthAdjust="spacingAndGlyphs">d</tspan><tspan x="535.06" font-size="26.16" textLength="15.2" lengthAdjust="spacingAndGlyphs">d</tspan><tspan x="551.51" font-size="26.16" textLength="5.63" lengthAdjust="spacingAndGlyphs">i</tspan><tspan x="558.4" font-size="27.09" textLength="8.66" lengthAdjust="spacingAndGlyphs">t</tspan><tspan x="568.41" font-size="26.16" textLength="5.63" lengthAdjust="spacingAndGlyphs">i</tspan><tspan x="575.06" font-size="25.95" textLength="14.87" lengthAdjust="spacingAndGlyphs">o</tspan><tspan x="590.67" font-size="25.95" textLength="15.07" lengthAdjust="spacingAndGlyphs">n</tspan><tspan x="606.75" font-size="25.95" textLength="12.57" lengthAdjust="spacingAndGlyphs">a</tspan><tspan x="622.25" font-size="26.16" textLength="5.63" lengthAdjust="spacingAndGlyphs">l</tspan></text> <text y="1184.98"><tspan x="635.53" font-size="26.16" textLength="5.62" lengthAdjust="spacingAndGlyphs">i</tspan><tspan x="642.39" font-size="25.95" textLength="15.06" lengthAdjust="spacingAndGlyphs">n</tspan><tspan x="658.43" font-size="26.19" textLength="8.37" lengthAdjust="spacingAndGlyphs">f</tspan><tspan x="667.12" font-size="25.95" textLength="14.85" lengthAdjust="spacingAndGlyphs">o</tspan><tspan x="682.82" font-size="25.95" textLength="9.94" lengthAdjust="spacingAndGlyphs">r</tspan><tspan x="692.57" font-size="25.95" textLength="23.87" lengthAdjust="spacingAndGlyphs">m</tspan><tspan x="717.31" font-size="25.95" textLength="12.56" lengthAdjust="spacingAndGlyphs">a</tspan><tspan x="732.64" font-size="27.09" textLength="8.66" lengthAdjust="spacingAndGlyphs">t</tspan><tspan x="742.64" font-size="26.16" textLength="5.62" lengthAdjust="spacingAndGlyphs">i</tspan><tspan x="749.28" font-size="25.95" textLength="14.85" lengthAdjust="spacingAndGlyphs">o</tspan><tspan x="764.88" font-size="25.95" textLength="15.06" lengthAdjust="spacingAndGlyphs">n</tspan></text> <text y="1184.98"><tspan x="788.48" font-size="26.16" textLength="5.77" lengthAdjust="spacingAndGlyphs">i</tspan><tspan x="795.73" font-size="26.02" textLength="12.34" lengthAdjust="spacingAndGlyphs">s</tspan></text> <text y="1184.98"><tspan x="816.42" font-size="25.95" textLength="15.06" lengthAdjust="spacingAndGlyphs">n</tspan><tspan x="832.17" font-size="25.95" textLength="15.09" lengthAdjust="spacingAndGlyphs">e</tspan><tspan x="847.75" font-size="25.95" textLength="12.59" lengthAdjust="spacingAndGlyphs">c</tspan><tspan x="861.52" font-size="25.95" textLength="15.09" lengthAdjust="spacingAndGlyphs">e</tspan><tspan x="877.47" font-size="26.02" textLength="12.03" lengthAdjust="spacingAndGlyphs">s</tspan><tspan x="890.7" font-size="26.02" textLength="12.03" lengthAdjust="spacingAndGlyphs">s</tspan><tspan x="903.79" font-size="25.95" textLength="12.56" lengthAdjust="spacingAndGlyphs">a</tspan><tspan x="919.2" font-size="25.95" textLength="9.94" lengthAdjust="spacingAndGlyphs">r</tspan><tspan x="929.74" font-size="25.8" textLength="13.49" lengthAdjust="spacingAndGlyphs">y</tspan></text> <text y="1184.98"><tspan x="951.2" font-size="27.09" textLength="8.66" lengthAdjust="spacingAndGlyphs">t</tspan><tspan x="960.97" font-size="25.95" textLength="15.37" lengthAdjust="spacingAndGlyphs">o</tspan></text> <text y="1184.98"><tspan x="984.26" font-size="25.95" textLength="12.57" lengthAdjust="spacingAndGlyphs">a</tspan><tspan x="999.78" font-size="26.02" textLength="12.04" lengthAdjust="spacingAndGlyphs">s</tspan><tspan x="1013.02" font-size="26.02" textLength="12.04" lengthAdjust="spacingAndGlyphs">s</tspan><tspan x="1025.8" font-size="25.95" textLength="15.1" lengthAdjust="spacingAndGlyphs">e</tspan><tspan x="1041.77" font-size="26.02" textLength="12.04" lengthAdjust="spacingAndGlyphs">s</tspan><tspan x="1055.01" font-size="26.02" textLength="12.04" lengthAdjust="spacingAndGlyphs">s</tspan></text> <text y="1184.98"><tspan x="1075.13" font-size="27.09" textLength="8.66" lengthAdjust="spacingAndGlyphs">t</tspan><tspan x="1084.94" font-size="26.16" textLength="15.43" lengthAdjust="spacingAndGlyphs">h</tspan><tspan x="1101.05" font-size="25.95" textLength="15.35" lengthAdjust="spacingAndGlyphs">e</tspan></text> <text y="1184.98"><tspan x="1124.16" font-size="27.09" textLength="8.66" lengthAdjust="spacingAndGlyphs">t</tspan><tspan x="1134.35" font-size="25.95" textLength="9.94" lengthAdjust="spacingAndGlyphs">r</tspan><tspan x="1144.7" font-size="26.43" textLength="15.43" lengthAdjust="spacingAndGlyphs">u</tspan><tspan x="1160.95" font-size="25.95" textLength="15.46" lengthAdjust="spacingAndGlyphs">e</tspan></text> <text y="1184.98"><tspan x="1183.06" font-size="25.95" textLength="15.33" lengthAdjust="spacingAndGlyphs">q</tspan><tspan x="1199.38" font-size="26.43" textLength="15.22" lengthAdjust="spacingAndGlyphs">u</tspan><tspan x="1215.73" font-size="25.95" textLength="12.7" lengthAdjust="spacingAndGlyphs">a</tspan><tspan x="1231.38" font-size="26.16" textLength="5.68" lengthAdjust="spacingAndGlyphs">l</tspan><tspan x="1238.53" font-size="26.16" textLength="5.68" lengthAdjust="spacingAndGlyphs">i</tspan><tspan x="1245.53" font-size="27.09" textLength="8.66" lengthAdjust="spacingAndGlyphs">t</tspan><tspan x="1255.6" font-size="25.8" textLength="13.64" lengthAdjust="spacingAndGlyphs">y</tspan></text> <text y="1184.98"><tspan x="1277.07" font-size="25.95" textLength="15.28" lengthAdjust="spacingAndGlyphs">o</tspan><tspan x="1293.27" font-size="26.19" textLength="8.37" lengthAdjust="spacingAndGlyphs">f</tspan></text> <text y="1184.98"><tspan x="1309.07" font-size="25.95" textLength="15.09" lengthAdjust="spacingAndGlyphs">e</tspan><tspan x="1324.88" font-size="25.95" textLength="12.56" lengthAdjust="spacingAndGlyphs">a</tspan><tspan x="1340.29" font-size="25.95" textLength="9.94" lengthAdjust="spacingAndGlyphs">r</tspan><tspan x="1350.14" font-size="25.95" textLength="15.06" lengthAdjust="spacingAndGlyphs">n</tspan><tspan x="1366.33" font-size="26.16" textLength="5.62" lengthAdjust="spacingAndGlyphs">i</tspan><tspan x="1373.19" font-size="25.95" textLength="15.06" lengthAdjust="spacingAndGlyphs">n</tspan><tspan x="1388.95" font-size="26.02" textLength="15.18" lengthAdjust="spacingAndGlyphs">g</tspan><tspan x="1405.4" font-size="26.02" textLength="12.03" lengthAdjust="spacingAndGlyphs">s</tspan><tspan x="1418.17" font-size="28.62" textLength="7.46" lengthAdjust="spacingAndGlyphs">.</tspan></text>
</g>
</svg>
</body>
</html>
